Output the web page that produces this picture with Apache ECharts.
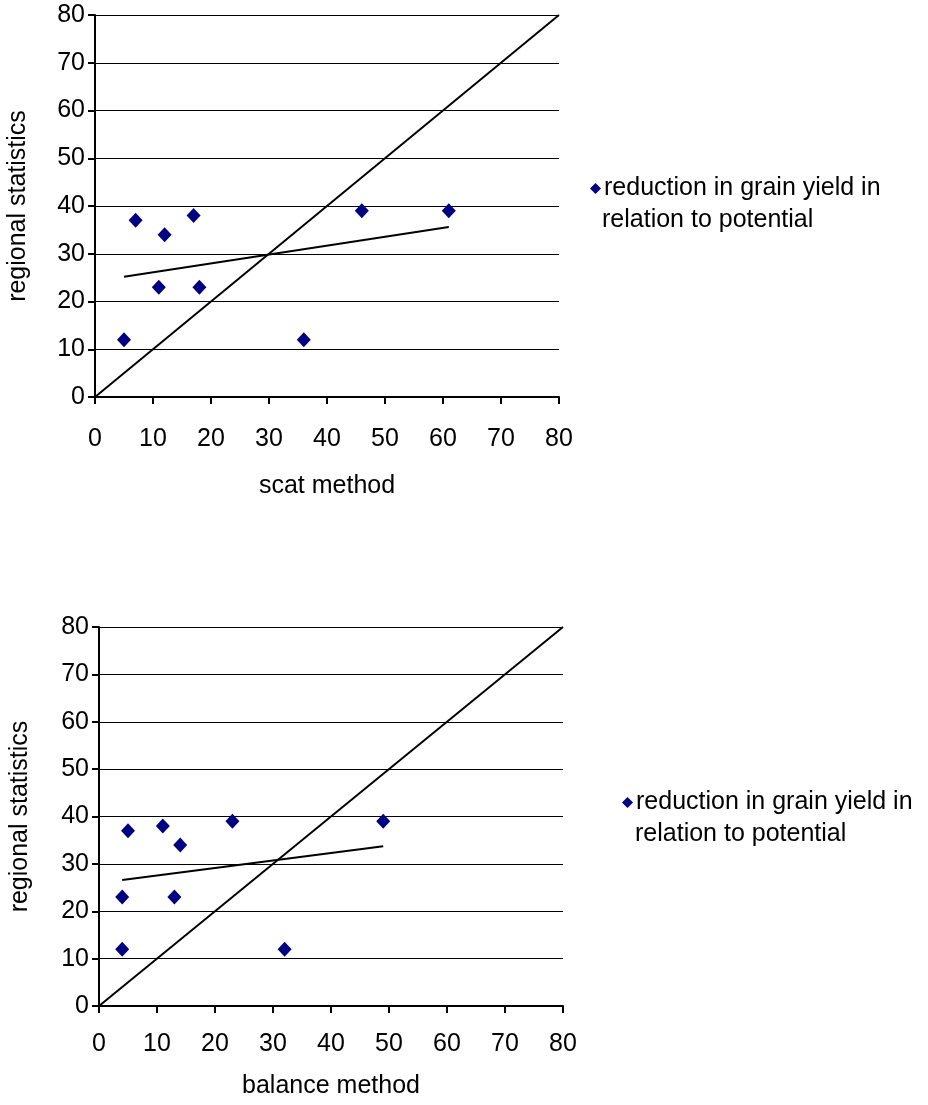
<!DOCTYPE html>
<html>
<head>
<meta charset="utf-8">
<script src="https://cdn.jsdelivr.net/npm/echarts@6/dist/echarts.min.js"></script>
<style>html,body{margin:0;padding:0;background:#fff}#c{width:928px;height:1105px}</style>
</head>
<body>
<div id="c"></div>
<script>
// ---- data ----
var xTicks = [0, 10, 20, 30, 40, 50, 60, 70, 80];
var yTicks = [0, 10, 20, 30, 40, 50, 60, 70, 80];
var scatX = [5, 7, 12, 17, 11, 18, 36, 46, 61];
var scatY = [12, 37, 34, 38, 23, 23, 12, 39, 39];
var scatTrendX = [5, 61];
var scatTrendY = [25.2, 35.6];
var balanceX = [4, 4, 5, 11, 14, 13, 23, 32, 49];
var balanceY = [12, 23, 37, 38, 34, 23, 39, 12, 39];
var balanceTrendX = [4, 49];
var balanceTrendY = [26.6, 33.7];
var diagX = [0, 80];
var diagY = [0, 80];
var seriesLabel = 'reduction in grain yield in';
var seriesLabel2 = 'relation to potential';
var xNames = ['scat method', 'balance method'];
var yName = 'regional statistics';

function pairs(xs, ys) { return xs.map(function (x, i) { return [x, ys[i]]; }); }

var FONT = 'Liberation Sans, Arial, sans-serif';
var FS = 25;
var chart = echarts.init(document.getElementById('c'), null, { renderer: 'canvas' });

function xAxis(idx, name, gap, margin) {
  return {
    type: 'value', gridIndex: idx, min: 0, max: 80, interval: 10,
    name: name, nameLocation: 'middle', nameGap: gap,
    nameTextStyle: { color: '#000', fontFamily: FONT, fontSize: FS },
    axisLine: { show: true, onZero: false, lineStyle: { color: '#000', width: 2 } },
    axisTick: { show: true, length: 7, lineStyle: { color: '#000', width: 2 } },
    axisLabel: { color: '#000', fontFamily: FONT, fontSize: FS, margin: margin,
      formatter: function (v) { return xTicks.indexOf(v) >= 0 ? String(v) : ''; } },
    splitLine: { show: false }
  };
}
function yAxis(idx, gap) {
  return {
    type: 'value', gridIndex: idx, min: 0, max: 80, interval: 10,
    name: yName, nameLocation: 'middle', nameGap: gap, nameRotate: 90,
    nameTextStyle: { color: '#000', fontFamily: FONT, fontSize: FS },
    axisLine: { show: true, onZero: false, lineStyle: { color: '#000', width: 2 } },
    axisTick: { show: true, length: 7, lineStyle: { color: '#000', width: 2 } },
    axisLabel: { color: '#000', fontFamily: FONT, fontSize: FS, margin: 10,
      formatter: function (v) { return yTicks.indexOf(v) >= 0 ? String(v) : ''; } },
    splitLine: { show: true, lineStyle: { color: '#000', width: 1 } }
  };
}
function lineSeries(name, idx, data) {
  return {
    name: name, type: 'line', xAxisIndex: idx, yAxisIndex: idx, data: data,
    symbol: 'none', silent: true, z: 3,
    lineStyle: { color: '#000', width: 2 }, itemStyle: { color: '#000' }
  };
}
function scatterSeries(name, idx, data) {
  return {
    name: name, type: 'scatter', xAxisIndex: idx, yAxisIndex: idx, data: data,
    symbol: 'diamond', symbolSize: [14, 15], z: 5,
    itemStyle: { color: '#000080', opacity: 1 }
  };
}

var option = {
  animation: false,
  backgroundColor: '#fff',
  grid: [
    { left: 95, top: 15, width: 464, height: 382, containLabel: false },
    { left: 99, top: 627, width: 464, height: 379, containLabel: false }
  ],
  xAxis: [xAxis(0, xNames[0], 77, 30), xAxis(1, xNames[1], 68, 26)],
  yAxis: [yAxis(0, 64), yAxis(1, 66)],
  legend: [
    { data: [{ name: 's1', icon: 'diamond' }], left: 585, top: 171, itemWidth: 11, itemHeight: 11, itemGap: 0,
      formatter: function () { return seriesLabel; },
      textStyle: { color: '#000', fontFamily: FONT, fontSize: FS, padding: [0, 0, 0, -2] } },
    { data: [{ name: 's2', icon: 'diamond' }], left: 617, top: 785, itemWidth: 11, itemHeight: 11, itemGap: 0,
      formatter: function () { return seriesLabel; },
      textStyle: { color: '#000', fontFamily: FONT, fontSize: FS, padding: [0, 0, 0, -2] } }
  ],
  title: [
    { text: seriesLabel2, left: 602, top: 208, padding: 0,
      textStyle: { color: '#000', fontFamily: FONT, fontSize: FS, fontWeight: 'normal' } },
    { text: seriesLabel2, left: 635, top: 822, padding: 0,
      textStyle: { color: '#000', fontFamily: FONT, fontSize: FS, fontWeight: 'normal' } }
  ],
  series: [
    lineSeries('diag1', 0, pairs(diagX, diagY)),
    lineSeries('trend1', 0, pairs(scatTrendX, scatTrendY)),
    scatterSeries('s1', 0, pairs(scatX, scatY)),
    lineSeries('diag2', 1, pairs(diagX, diagY)),
    lineSeries('trend2', 1, pairs(balanceTrendX, balanceTrendY)),
    scatterSeries('s2', 1, pairs(balanceX, balanceY))
  ]
};
chart.setOption(option);
</script>
</body>
</html>
